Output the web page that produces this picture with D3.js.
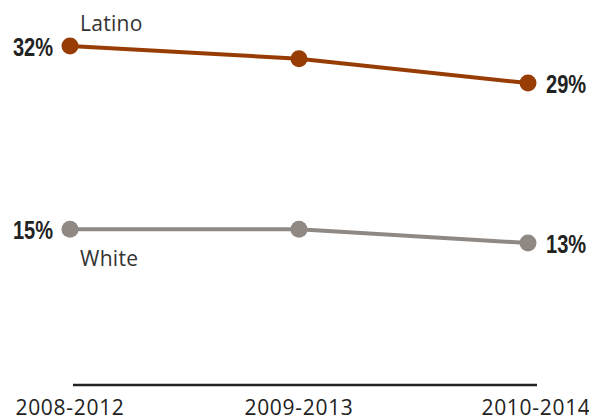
<!DOCTYPE html>
<html>
<head>
<meta charset="utf-8">
<script src="https://cdn.jsdelivr.net/npm/d3@7"></script>
<style>
    body { margin: 0; background: #fff; }
    .tick-label { font-family: "Open Sans", sans-serif; font-size: 21px; fill: #222; letter-spacing: 0.7px; }
    .series-name { font-family: "Open Sans", sans-serif; font-size: 21px; fill: #333; letter-spacing: 0.3px; }
    .value-label { font-family: "Liberation Sans", "DejaVu Sans", sans-serif; font-weight: bold; font-size: 26px; fill: #222; }
</style>
</head>
<body>
<svg id="chart"></svg>
<script>
const periods = ["2008-2012", "2009-2013", "2010-2014"];
const latino = [32, 30.8, 28.5];
const white = [14.7, 14.7, 13.4];
const latinoLabels = ["32%", "", "29%"];
const whiteLabels = ["15%", "", "13%"];
const seriesNames = ["Latino", "White"];

const width = 589, height = 420;
const colors = { Latino: "#983c05", White: "#8f8883" };

const svg = d3.select("#chart")
    .attr("width", width)
    .attr("height", height)

const xScale = d3.scalePoint().domain(periods).range([70, 528])
const yScale = d3.scaleLinear().domain([0, 32]).range([385, 46])

// baseline axis
svg.append("line")
    .attr("x1", 73)
    .attr("x2", 537)
    .attr("y1", yScale(0))
    .attr("y2", yScale(0))
    .attr("stroke", "#222")
    .attr("stroke-width", 2.5)

svg.selectAll(".tick-label")
    .data(periods)
    .enter()
    .append("text")
    .attr("class", "tick-label")
    .attr("x", d => xScale(d))
    .attr("dx", (d, i) => i === periods.length - 1 ? 8 : 0)
    .attr("y", 415)
    .attr("text-anchor", "middle")
    .text(d => d)

const series = [
    { name: "Latino", values: latino, labels: latinoLabels, nameDy: -15 },
    { name: "White", values: white, labels: whiteLabels, nameDy: 37 }
]

const line = d3.line()
    .x((d, i) => xScale(periods[i]))
    .y(d => yScale(d))

series.forEach(s => {
    const g = svg.append("g").attr("class", "series")
    g.append("path")
        .attr("d", line(s.values))
        .attr("fill", "none")
        .attr("stroke", colors[s.name])
        .attr("stroke-width", 4)
    g.selectAll("circle")
        .data(s.values)
        .enter()
        .append("circle")
        .attr("cx", (d, i) => xScale(periods[i]))
        .attr("cy", d => yScale(d))
        .attr("r", 8.5)
        .attr("fill", colors[s.name])
    // condensed look: squeeze the bold labels horizontally
    g.selectAll(".value-label")
        .data(s.values.map((v, i) => ({ v, i, label: s.labels[i] })).filter(d => d.label))
        .enter()
        .append("text")
        .attr("class", "value-label")
        .attr("transform", d => `translate(${xScale(periods[d.i]) + (d.i === 0 ? -17 : 18)},${yScale(d.v) + 10}) scale(0.77,1)`)
        .attr("text-anchor", d => d.i === 0 ? "end" : "start")
        .text(d => d.label)
    g.append("text")
        .attr("class", "series-name")
        .attr("x", xScale(periods[0]) + 10)
        .attr("y", yScale(s.values[0]) + s.nameDy)
        .text(s.name)
})
</script>
</body>
</html>
